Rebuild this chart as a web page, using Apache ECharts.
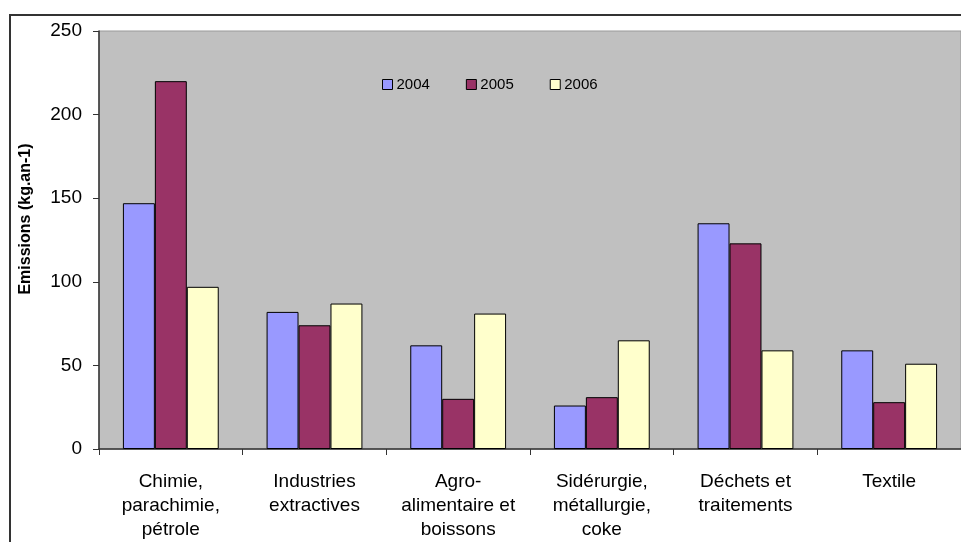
<!DOCTYPE html>
<html>
<head>
<meta charset="utf-8">
<script src="https://cdn.jsdelivr.net/npm/echarts@6/dist/echarts.min.js"></script>
<style>
  html, body { margin: 0; padding: 0; background: #fff; }
  #chart { width: 961px; height: 542px; }
</style>
</head>
<body>
<div id="chart"></div>
<script>
// Emissions by industrial sector, 2004–2006 (kg.an-1)
const categories = [
  'Chimie,\nparachimie,\npétrole',
  'Industries\nextractives',
  'Agro-\nalimentaire et\nboissons',
  'Sidérurgie,\nmétallurgie,\ncoke',
  'Déchets et\ntraitements',
  'Textile'
];
const seriesNames = ['2004', '2005', '2006'];
const values2004 = [147, 82, 62, 26, 135, 59];
const values2005 = [220, 74, 30, 31, 123, 28];
const values2006 = [97, 87, 81, 65, 59, 51];
const yTicks = { min: 0, max: 250, interval: 50 };
const axisTitle = 'Emissions (kg.an-1)';

const colors = ['#9999FF', '#993366', '#FFFFCC'];
const font = '"Liberation Sans", Arial, sans-serif';

const chart = echarts.init(document.getElementById('chart'), null, { renderer: 'canvas' });

const seriesData = [values2004, values2005, values2006];

chart.setOption({
  animation: false,
  backgroundColor: '#ffffff',
  grid: {
    left: 99, top: 31, right: -2, bottom: 93,
    show: true,
    backgroundColor: '#C0C0C0',
    borderColor: '#999999',
    borderWidth: 1
  },
  legend: {
    data: seriesNames,
    left: 377, top: 72,
    itemWidth: 10, itemHeight: 10,
    itemGap: 36,
    icon: 'rect',
    itemStyle: { borderColor: '#000', borderWidth: 1 },
    textStyle: { fontFamily: font, fontSize: 15, color: '#000', padding: [0, 0, 0, -1] }
  },
  xAxis: {
    type: 'category',
    data: categories,
    axisLine: { show: true, lineStyle: { color: '#333', width: 1.5 } },
    axisTick: { show: true, length: 6, lineStyle: { color: '#333' } },
    axisLabel: {
      interval: 0,
      margin: 21,
      fontFamily: font, fontSize: 19, lineHeight: 24, color: '#000', align: 'center'
    },
    splitLine: { show: false }
  },
  yAxis: {
    type: 'value',
    min: yTicks.min, max: yTicks.max, interval: yTicks.interval,
    axisLine: { show: true, lineStyle: { color: '#333', width: 1.5 } },
    axisTick: { show: true, length: 6, lineStyle: { color: '#333' } },
    axisLabel: { margin: 17, fontFamily: font, fontSize: 19, color: '#000', padding: [5, 0, 0, 0] },
    splitLine: { show: false }
  },
  graphic: [
    {
      type: 'rect',
      shape: { x: 10, y: 15, width: 1000, height: 600 },
      style: { fill: 'none', stroke: '#333', lineWidth: 2 },
      z: 100
    },
    {
      type: 'text',
      x: 26, y: 219,
      rotation: Math.PI / 2,
      style: {
        text: axisTitle,
        fontFamily: font, fontSize: 16, fontWeight: 'bold', fill: '#000',
        align: 'center', verticalAlign: 'middle'
      }
    }
  ],
  series: seriesNames.map((name, i) => ({
    name: name,
    type: 'bar',
    data: seriesData[i],
    barGap: '0%',
    barCategoryGap: '33.3%',
    itemStyle: { color: colors[i], borderColor: '#000', borderWidth: 1 }
  }))
});
</script>
</body>
</html>
